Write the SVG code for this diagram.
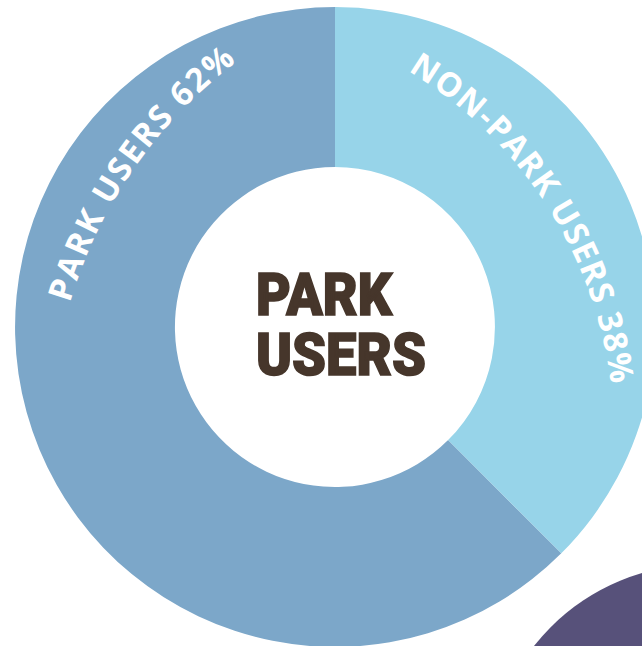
<svg xmlns="http://www.w3.org/2000/svg" width="642" height="646" viewBox="0 0 642 646">
<style>
.lbl{font-family:"Open Sans","Noto Sans",sans-serif;font-weight:700;fill:#fff;font-size:33px;letter-spacing:1.3px}
.ctr{font-family:Roboto,"Liberation Sans",sans-serif;font-weight:900;font-size:60px;fill:#46362b;stroke:#46362b;stroke-width:1.6px}
</style>
<defs>
<path id="arcR" d="M 408 71 A 426 426 0 0 1 614 430"/>
<path id="arcL" d="M 70 303 A 463 463 0 0 1 300 22"/>
</defs>
<rect width="642" height="646" fill="#fff"/>
<circle id="accent" cx="702" cy="778.5" r="214" fill="#57517a"/>
<g id="donut">
<path id="park" d="M335 7A320 320 0 1 0 561.3 553.3L448.1 440.1A160 160 0 1 1 335 167Z" fill="#7ca7c9"/>
<path id="nonpark" d="M335 7A320 320 0 0 1 561.3 553.3L448.1 440.1A160 160 0 0 0 335 167Z" fill="#97d4e9"/>
</g>
<text class="lbl"><textPath href="#arcR">NON-PARK USERS 38%</textPath></text>
<text class="lbl" style="letter-spacing:1.9px"><textPath href="#arcL">PARK USERS 62%</textPath></text>
<g id="center">
<text class="ctr" x="256" y="315" textLength="136" lengthAdjust="spacingAndGlyphs">PARK</text>
<text class="ctr" x="256" y="375" textLength="170" lengthAdjust="spacingAndGlyphs">USERS</text>
</g>
</svg>
